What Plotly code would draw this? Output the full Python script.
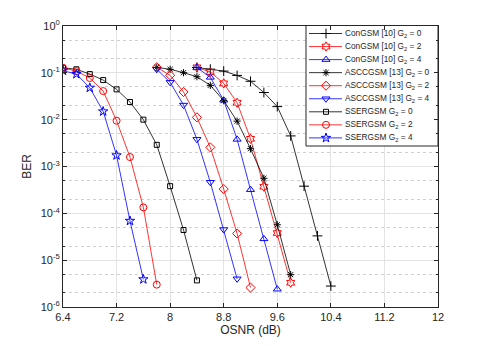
import plotly.graph_objects as go

osnr_sser = [6.4, 6.6, 6.8, 7.0, 7.2, 7.4, 7.6, 7.8, 8.0, 8.2, 8.4]
sser_g0 = [0.128, 0.119, 0.094, 0.070, 0.0444, 0.0238, 0.0100, 0.0029, 3.8e-4, 4.4e-5, 3.7e-6]
sser_g2 = [0.128, 0.109, 0.0774, 0.0408, 0.0095, 0.00159, 1.34e-4, 3.0e-6]
sser_g4 = [0.111, 0.094, 0.048, 0.015, 0.00173, 6.9e-5, 3.9e-6]

osnr_ascc = [7.8, 8.0, 8.2, 8.4, 8.6, 8.8, 9.0, 9.2, 9.4, 9.6, 9.8]
ascc_g0 = [0.131, 0.119, 0.1007, 0.0826, 0.054, 0.0254, 0.0093, 0.0024, 5.6e-4, 5.7e-5, 4.9e-6]
ascc_g2 = [0.131, 0.0885, 0.039, 0.0112, 0.00256, 3.3e-4, 3.7e-5, 2.6e-6]
ascc_g4 = [0.119, 0.0627, 0.0205, 0.0038, 4.6e-4, 4.5e-5, 4.0e-6]

osnr_con = [8.4, 8.6, 8.8, 9.0, 9.2, 9.4, 9.6, 9.8, 10.0, 10.2, 10.4]
con_g0 = [0.13, 0.12, 0.109, 0.088, 0.066, 0.038, 0.019, 0.0045, 3.8e-4, 3.3e-5, 2.8e-6]
con_g2 = [0.131, 0.104, 0.0597, 0.023, 0.0039, 3.7e-4, 3.8e-5, 3.3e-6]
con_g4 = [0.13, 0.080, 0.026, 0.0038, 3.2e-4, 2.85e-5, 2.4e-6]

x_ticks = [6.4, 7.2, 8.0, 8.8, 9.6, 10.4, 11.2, 12.0]
x_ticktext = ["6.4", "7.2", "8", "8.8", "9.6", "10.4", "11.2", "12"]
y_ticks = [1, 1e-1, 1e-2, 1e-3, 1e-4, 1e-5, 1e-6]
y_ticktext = ["10<sup>0</sup>", "10<sup>-1</sup>", "10<sup>-2</sup>", "10<sup>-3</sup>",
              "10<sup>-4</sup>", "10<sup>-5</sup>", "10<sup>-6</sup>"]

series_names = [
    "ConGSM [10] G<sub>2</sub> = 0", "ConGSM [10] G<sub>2</sub> = 2", "ConGSM [10] G<sub>2</sub> = 4",
    "ASCCGSM [13] G<sub>2</sub> = 0", "ASCCGSM [13] G<sub>2</sub> = 2", "ASCCGSM [13] G<sub>2</sub> = 4",
    "SSERGSM G<sub>2</sub> = 0", "SSERGSM G<sub>2</sub> = 2", "SSERGSM G<sub>2</sub> = 4",
]
series_x = [osnr_con, osnr_con, osnr_con, osnr_ascc, osnr_ascc, osnr_ascc, osnr_sser, osnr_sser, osnr_sser]
series_y = [con_g0, con_g2, con_g4, ascc_g0, ascc_g2, ascc_g4, sser_g0, sser_g2, sser_g4]

styles = [
    ("black", "cross-thin-open", 7),
    ("red", "hexagram-open", 7),
    ("blue", "triangle-up-open", 7),
    ("black", "asterisk-open", 6),
    ("red", "diamond-open", 7),
    ("blue", "triangle-down-open", 7),
    ("black", "square-open", 5),
    ("red", "circle-open", 7),
    ("blue", "star-open", 7),
]

FONT = "Liberation Sans, Arial, sans-serif"
TXT = "#262626"

# page offset (default body margin) and plot area in window pixels
OFF = 8
W, H = 485 - OFF, 346 - OFF
L, R, T, B = 63, 438, 26, 307

fig = go.Figure()
for name, xs, ys, (col, sym, sz) in zip(series_names, series_x, series_y, styles):
    fig.add_trace(go.Scatter(
        x=xs[:len(ys)], y=ys, name=name, mode="lines+markers", showlegend=False,
        line=dict(color=col, width=0.8),
        marker=dict(symbol=sym, size=sz, color=col, line=dict(color=col, width=1)),
    ))

# custom MATLAB-style legend drawn on an overlay axis in pixel units
leg_x0, leg_x1, leg_y0, leg_y1 = 306, 438, 25.5, 146
row0, row_step = 33.5, 13.05
fig.add_trace(go.Scatter(x=[leg_x0, leg_x1, leg_x1, leg_x0, leg_x0],
                         y=[leg_y0, leg_y0, leg_y1, leg_y1, leg_y0],
                         mode="lines", fill="toself", fillcolor="white",
                         line=dict(color=TXT, width=1), xaxis="x2", yaxis="y2",
                         showlegend=False, hoverinfo="skip"))
for i, (name, (col, sym, sz)) in enumerate(zip(series_names, styles)):
    yc = row0 + i * row_step
    fig.add_trace(go.Scatter(x=[309, 342], y=[yc, yc], mode="lines", xaxis="x2", yaxis="y2",
                             line=dict(color=col, width=0.8), showlegend=False, hoverinfo="skip"))
    fig.add_trace(go.Scatter(x=[326], y=[yc], mode="markers", xaxis="x2", yaxis="y2",
                             marker=dict(symbol=sym, size=sz, color=col, line=dict(color=col, width=1)),
                             showlegend=False, hoverinfo="skip"))
    fig.add_annotation(x=343.5, y=yc, xref="x2", yref="y2", text=name, showarrow=False,
                       xanchor="left", yanchor="middle", borderpad=0,
                       font=dict(family=FONT, size=8.3, color=TXT))

axis_common = dict(
    showline=True, linecolor=TXT, linewidth=1, mirror="ticks",
    ticks="inside", ticklen=4, tickcolor=TXT,
    gridcolor="#e3e3e3", gridwidth=1, zeroline=False, automargin=False,
    tickfont=dict(family=FONT, size=11, color=TXT),
)

fig.update_layout(
    xaxis=dict(range=[6.4, 12], tickvals=x_ticks, ticktext=x_ticktext,
               title=dict(text="OSNR (dB)", standoff=2, font=dict(family=FONT, size=12, color=TXT)),
               **axis_common),
    yaxis=dict(type="log", range=[-6, 0], tickvals=y_ticks, ticktext=y_ticktext,
               title=dict(text="BER", standoff=6, font=dict(family=FONT, size=12, color=TXT)),
               minor=dict(showgrid=True, gridcolor="#d0d0d0", griddash="dot", gridwidth=1,
                          ticks="inside", ticklen=2, tickcolor=TXT),
               **axis_common),
    xaxis2=dict(overlaying="x", anchor="y2", range=[L, R], visible=False, fixedrange=True),
    yaxis2=dict(overlaying="y", anchor="x2", range=[B, T], visible=False, fixedrange=True),
    width=W, height=H,
    margin=dict(l=L - OFF, r=W + OFF - R, t=T - OFF, b=H + OFF - B),
    paper_bgcolor="white", plot_bgcolor="white",
    font=dict(family=FONT, color=TXT),
    showlegend=False,
)

fig.write_html("out.html")
